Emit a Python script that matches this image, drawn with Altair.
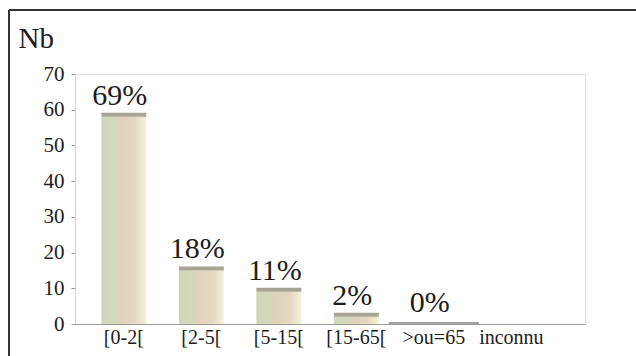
import altair as alt
import pandas as pd

# Age groups and number of cases
categories = ["[0-2[", "[2-5[", "[5-15[", "[15-65[", ">ou=65", "inconnu"]
counts = [58, 15, 9, 2, 0, 0]
show_pct = [True, True, True, True, True, False]

total = sum(counts)
df = pd.DataFrame({
    "groupe": categories,
    "nb": counts,
    "pct": [f"{round(100 * c / total)}%" for c in counts],
    "show": show_pct,
})

SERIF = "Liberation Serif"
INK = "#1c1c1c"

bar_fill = alt.LinearGradient(
    gradient="linear",
    stops=[
        alt.GradientStop(color="#cfd7b6", offset=0.0),
        alt.GradientStop(color="#d5d9bc", offset=0.33),
        alt.GradientStop(color="#e0d2bb", offset=0.38),
        alt.GradientStop(color="#e5d8c0", offset=0.75),
        alt.GradientStop(color="#f6f2dc", offset=1.0),
    ],
    x1=0, x2=1, y1=0, y2=0,
)

x_enc = alt.X(
    "groupe:N",
    sort=categories,
    scale=alt.Scale(paddingInner=0.42, paddingOuter=0.5, align=0.34),
    axis=alt.Axis(
        title=None, labelAngle=0, ticks=False, labelPadding=3,
        labelFont=SERIF, labelFontSize=20, labelColor=INK,
        domainColor="#9a9a9a", domainWidth=1,
    ),
)
y_enc = alt.Y(
    "nb:Q",
    scale=alt.Scale(domain=[0, 70], nice=False),
    axis=alt.Axis(
        values=list(range(0, 71, 10)), grid=False,
        title="Nb", titleAngle=0, titleAlign="left", titleBaseline="alphabetic",
        titleX=-57, titleY=-27, titleFont=SERIF, titleFontSize=29,
        titleFontWeight="normal", titleColor=INK,
        labelFont=SERIF, labelFontSize=21, labelColor=INK, labelPadding=7,
        tickSize=4, tickColor="#9a9a9a", domainColor="#d4d4d4",
    ),
)

base = alt.Chart(df)

bars = base.mark_bar(fill=bar_fill, stroke=None).encode(x=x_enc, y=y_enc)

# darker top face of each column; a flat line for empty groups
tops = base.transform_filter("datum.show && datum.nb > 0").mark_tick(
    color="#9d9a86", thickness=4, yOffset=-2, opacity=0.9
).encode(x=x_enc, y=y_enc)
flat_tops = base.transform_filter("datum.show && datum.nb == 0").mark_tick(
    color="#4a4a44", thickness=1.5, size=90, yOffset=-1
).encode(x=x_enc, y=y_enc)

labels = base.transform_filter("datum.show").mark_text(
    font=SERIF, fontSize=30, color=INK, baseline="alphabetic", dy=-12, dx=-4
).encode(x=x_enc, y=y_enc, text="pct:N")

# outer frame (left and top edges)
frame_left = base.mark_rule(color="#333333", strokeWidth=1.8).encode(
    x=alt.value(-66), y=alt.value(-64), y2=alt.value(290)
)
frame_top = base.mark_rule(color="#333333", strokeWidth=1.8).encode(
    x=alt.value(-66), x2=alt.value(570), y=alt.value(-64)
)

chart = (
    alt.layer(bars, tops, flat_tops, labels, frame_left, frame_top)
    .properties(
        width=510, height=250,
        autosize=alt.AutoSizeParams(type="none"),
        padding={"left": 75, "top": 74, "right": 51, "bottom": 32},
    )
    .configure_view(stroke=None)
    .configure(background="white")
)

chart.save("out.html", embed_options={"renderer": "svg", "actions": False})
